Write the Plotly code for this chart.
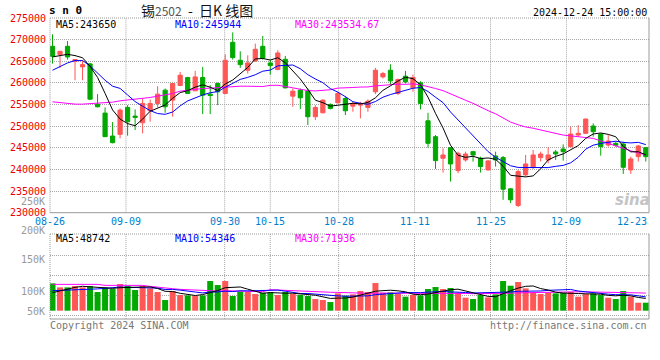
import plotly.graph_objects as go

# ---------------- data ----------------
dates = ["08-26","08-27","08-28","08-29","08-30",
         "09-02","09-03","09-04","09-05","09-06",
         "09-09","09-10","09-11","09-12","09-13",
         "09-18","09-19","09-20",
         "09-23","09-24","09-25","09-26","09-27","09-30",
         "10-08","10-09","10-10","10-11",
         "10-14","10-15","10-16","10-17","10-18",
         "10-21","10-22","10-23","10-24","10-25",
         "10-28","10-29","10-30","10-31","11-01",
         "11-04","11-05","11-06","11-07","11-08",
         "11-11","11-12","11-13","11-14","11-15",
         "11-18","11-19","11-20","11-21","11-22",
         "11-25","11-26","11-27","11-28","11-29",
         "12-02","12-03","12-04","12-05","12-06",
         "12-09","12-10","12-11","12-12","12-13",
         "12-16","12-17","12-18","12-19","12-20",
         "12-23","12-24"]

opens = [268460,266540,268460,265000,263700,264390,255090,253020,247720,248110,
         254330,252330,250790,253560,255250,258320,256020,259400,261240,258170,
         261240,257400,259860,257550,269380,265230,262930,265080,268460,264620,
         263080,265460,256940,258320,258090,252180,253100,255020,255400,256400,
         254630,254860,254330,257940,261390,262930,257550,261550,258860,260010,
         251250,247570,242580,245030,239730,242190,244110,242580,239890,243110,
         242730,235510,231670,238740,240430,242730,242190,244040,244730,245260,
         247950,248340,250030,248180,245650,246030,245880,239890,242960,245030]
highs = [271220,267310,269690,265390,265230,264620,257400,254330,250950,254100,
         254860,253870,256400,256170,259240,258700,259860,262540,261390,262770,
         263700,259470,260090,266610,271680,267310,266380,269070,270840,265390,
         267540,266230,258700,258700,258700,254860,256170,255250,257940,256940,
         255630,255630,256170,263470,262540,264310,261010,262770,261930,260390,
         253100,247950,244880,245030,244110,244110,244270,242960,242190,244110,
         243110,235660,239890,243340,244500,244110,245110,244500,245800,249870,
         250260,251790,250640,248340,247950,246420,246420,242960,245650,245030]
lows = [264460,263470,265390,260620,260620,256020,254330,247570,246030,247180,
        247800,249100,248340,251020,254330,253100,252180,259240,257400,258170,
        252790,252790,254860,257400,265390,263470,262160,264850,265390,261930,
        262930,258700,254480,253940,250260,251410,252940,253870,255250,252560,
        253330,251790,253330,257400,261010,259470,257170,259860,257940,253870,
        245030,240120,239270,237200,239120,241810,241810,239270,239730,240660,
        232980,232210,231290,238350,240120,241810,241420,242190,242040,245110,
        247570,248180,247570,243190,245260,245260,238970,238970,241810,241810]
closes = [266150,267310,266000,265390,264230,256250,254480,247570,246190,253710,
          251020,252020,255250,255250,257400,254480,259860,261780,257550,261390,
          257170,257090,257940,265230,265850,264230,264620,267770,265770,264000,
          266920,258860,258090,256550,252180,254330,256020,254100,257550,253560,
          255250,255250,255790,262930,262160,260470,260780,260240,261240,255250,
          246030,242040,243340,241270,243730,243570,243340,240660,241960,242190,
          235430,232980,239500,241270,243340,243570,243340,243570,244110,248180,
          248340,251640,248720,245260,246570,245570,240500,242420,245420,242960]
volumes = [109060, 93100, 93100, 98420, 93100, 98420, 74480, 93100, 86450,106400,
            98420, 82460, 98420, 89110, 74480, 42560, 78470, 62510, 61180, 58520,
            61180,118370,102410,118370, 58520, 75810, 74480, 66500, 71820, 73150,
            62510, 74480, 66500, 62510, 58520, 46550, 42560, 34580, 69160, 59850,
            65170, 78470, 74480,110390, 71820, 73150, 66500, 55860, 62510, 61180,
            86450, 94430, 86450, 90440, 71820, 51870, 46550, 62510, 53200, 65170,
           118370, 99750,114380, 89110, 71820, 66500, 71820, 69160, 71820, 74480,
            55860, 66500, 69160, 62510, 51870, 46550, 78470, 55860, 31920, 31920]

# moving-average values before enough visible history exists
ma5_head = [266000, 266380, 266610, 266310]
ma10_head = [262930, 263700, 264620, 265160, 265160, 263930, 262310, 260620, 259240]
ma30_head = [255630, 255480, 255170, 255090, 255090, 255170, 255250, 255400, 255550,
             255860, 256020, 256170, 256400, 256630, 256940, 257240, 257550, 258090,
             258320, 258550, 258700, 258780, 258930, 259090, 259160, 259240, 259240,
             259240, 259160]
vma5_head = [71820, 79800, 87780, 93100]
vma10_head = [79800, 80500, 81500, 82500, 84000, 85500, 87000, 89000, 91000]
vma30_head = [105100, 105100, 105100, 105100, 105100, 105100, 105100, 101100, 101100,
              101100, 101100, 101100, 101100, 97100, 93100, 90400, 87800, 85100,
              83800, 81100, 79800, 78500, 78500, 79800, 78500, 78500, 77100, 77100,
              75800]

price_ticks = [275000, 270000, 265000, 260000, 255000, 250000, 245000, 240000, 235000, 230000]
date_tick_labels = ["08-26", "09-09", "09-30", "10-15", "10-28", "11-11", "11-25", "12-09", "12-23"]
vol_tick_labels = ["250K", "200K", "150K", "100K", "50K"]

title_code = "s n 0"
title_name = "锡"
title_contract = "2502"
title_rest = "&nbsp;&nbsp;-&nbsp;&nbsp;日K 线图"
stamp_text = "2024-12-24 15:00:00"
price_ma_text = ["MA5:243650", "MA10:245944", "MA30:243534.67"]
vol_ma_text = ["MA5:48742", "MA10:54346", "MA30:71936"]
footer_left = "Copyright 2024 SINA.COM"
footer_right = "http://finance.sina.com.cn"


def moving_avg(vals, n, head):
    out = list(head)
    for i in range(n - 1, len(vals)):
        out.append(sum(vals[i - n + 1:i + 1]) / n)
    return out


# ---------------- layout constants ----------------
W, H = 660, 360
ML, MR, MT, MB = 50, 11, 18, 41
PW = W - ML - MR
PH = H - MT - MB
PRICE_BOTTOM_PX = 212.7
VOL_TOP_PX = 234
VOL_ZERO_PX = 310.7
VOL_PER_PX = 3990
CANDLE0_PX = 52.5
CANDLE_STEP = 7.51
GRID_STEP = 7.595

RED = "#ff5656"
GREEN = "#00a800"
GRID = "#a8a8a8"
BORDER = "#9a9a9a"
MONO = "DejaVu Sans Mono"


def py(y):
    return (H - MB - y) / PH


def px(x):
    return (x - ML) / PW


def gx(i):
    return (ML + GRID_STEP * i - CANDLE0_PX) / CANDLE_STEP


idx = list(range(len(dates)))
x_lo = (ML - CANDLE0_PX) / CANDLE_STEP
x_hi = (ML + PW - CANDLE0_PX) / CANDLE_STEP
price_dom = [py(PRICE_BOTTOM_PX), 1]
vol_dom = [0, py(VOL_TOP_PX)]
vol_range = [-(H - MB - VOL_ZERO_PX) * VOL_PER_PX, (VOL_ZERO_PX - VOL_TOP_PX) * VOL_PER_PX]

fig = go.Figure()
fig.add_trace(go.Candlestick(
    x=idx, open=opens, high=highs, low=lows, close=closes,
    increasing=dict(line=dict(color=RED, width=1), fillcolor=RED),
    decreasing=dict(line=dict(color=GREEN, width=1), fillcolor=GREEN),
    whiskerwidth=0, showlegend=False, hoverinfo="skip", xaxis="x", yaxis="y"))

for n, head, col in [(30, ma30_head, "#ff00ff"), (10, ma10_head, "#0000ff"), (5, ma5_head, "#000000")]:
    fig.add_trace(go.Scatter(x=idx, y=moving_avg(closes, n, head), mode="lines",
                             line=dict(color=col, width=1), showlegend=False,
                             hoverinfo="skip", xaxis="x", yaxis="y"))

bar_colors = [RED if c >= o else GREEN for o, c in zip(opens, closes)]
fig.add_trace(go.Bar(x=idx, y=volumes, marker=dict(color=bar_colors, line=dict(width=0)),
                     width=0.8, showlegend=False, hoverinfo="skip", xaxis="x2", yaxis="y2"))
for n, head, col in [(30, vma30_head, "#ff00ff"), (10, vma10_head, "#0000ff"), (5, vma5_head, "#000000")]:
    fig.add_trace(go.Scatter(x=idx, y=moving_avg(volumes, n, head), mode="lines",
                             line=dict(color=col, width=1), showlegend=False,
                             hoverinfo="skip", xaxis="x2", yaxis="y2"))

shapes = []
tick_idx = [dates.index(d) for d in date_tick_labels]
for i in tick_idx[1:-1]:
    for yref in ["y domain", "y2 domain"]:
        shapes.append(dict(type="line", xref="x", yref=yref, x0=gx(i), x1=gx(i), y0=0, y1=1,
                           line=dict(color=GRID, width=1, dash="1px,1px"), layer="below"))
# panel borders
for (b, t) in [price_dom, vol_dom]:
    shapes.append(dict(type="line", xref="paper", yref="paper", x0=0, x1=1, y0=t, y1=t,
                       line=dict(color=BORDER, width=1, dash="1px,1px")))
    shapes.append(dict(type="line", xref="paper", yref="paper", x0=0, x1=0, y0=b, y1=t,
                       line=dict(color=BORDER, width=1, dash="1px,1px")))
    shapes.append(dict(type="line", xref="paper", yref="paper", x0=0, x1=1, y0=b, y1=b,
                       line=dict(color=BORDER, width=1)))
    shapes.append(dict(type="line", xref="paper", yref="paper", x0=1, x1=1, y0=b, y1=t,
                       line=dict(color=BORDER, width=1)))

ann = []
f10 = dict(family=MONO, size=10)
ann.append(dict(text=title_code, x=px(47), y=py(11), xanchor="left", yanchor="middle",
                font=dict(family=MONO, size=11, color="#000", weight="bold")))
title_html = (f"{title_name}<span style='color:#555;font-size:12px'>{title_contract}</span>"
              f"{title_rest}")
ann.append(dict(text=title_html, x=px(139), y=py(10), xanchor="left", yanchor="middle",
                font=dict(family="Noto Sans CJK SC", size=14, color="#111")))
ann.append(dict(text=stamp_text, x=1, y=py(12), xanchor="right", yanchor="middle",
                font=dict(f10, color="#000")))
for txt, xp, col in zip(price_ma_text, [54, 173, 293], ["#000", "#0000ff", "#ff00ff"]):
    ann.append(dict(text=txt, x=px(xp), y=py(24), xanchor="left", yanchor="middle",
                    font=dict(f10, color=col)))
for txt, xp, col in zip(vol_ma_text, [54, 173, 293], ["#000", "#0000ff", "#ff00ff"]):
    ann.append(dict(text=txt, x=px(xp), y=py(238.5), xanchor="left", yanchor="middle",
                    font=dict(f10, color=col)))
for lab, yp in zip(vol_tick_labels, [201, 230.5, 259, 291, 311]):
    ann.append(dict(text=lab, x=0, y=py(yp), xanchor="right", yanchor="middle", xshift=-3,
                    font=dict(f10, color="#999")))
for lab, i in zip(date_tick_labels, tick_idx):
    if lab == date_tick_labels[-1]:
        ann.append(dict(text=lab, x=1, y=py(221.5), xanchor="right", yanchor="middle",
                        font=dict(f10, color="#0080cc")))
    else:
        ann.append(dict(text=lab, xref="x", x=gx(i), y=py(221.5), xanchor="center",
                        yanchor="middle", font=dict(f10, color="#0080cc")))
ann.append(dict(text=footer_left, x=px(48), y=py(325), xanchor="left", yanchor="middle",
                font=dict(f10, color="#777")))
ann.append(dict(text=footer_right, x=1, y=py(325), xanchor="right", yanchor="middle",
                font=dict(f10, color="#777")))
ann.append(dict(text="<b><i>sina</i></b>", x=px(652), y=py(200), xanchor="right", yanchor="middle",
                font=dict(family="DejaVu Sans", size=15, color="#c4c4c4")))
for a in ann:
    a.setdefault("xref", "paper")
    a.setdefault("yref", "paper")
    a["showarrow"] = False

fig.update_layout(
    width=W, height=H, margin=dict(l=ML, r=MR, t=MT, b=MB, autoexpand=False),
    paper_bgcolor="white", plot_bgcolor="white",
    shapes=shapes, annotations=ann, bargap=0.2, boxgap=0.2,
    xaxis=dict(domain=[0, 1], range=[x_lo, x_hi], anchor="y", showticklabels=False,
               showgrid=False, zeroline=False, showline=False, ticks="", automargin=False,
               rangeslider=dict(visible=False)),
    xaxis2=dict(domain=[0, 1], range=[x_lo, x_hi], anchor="y2", matches="x", automargin=False,
                showticklabels=False, showgrid=False, zeroline=False, showline=False, ticks=""),
    yaxis=dict(domain=price_dom, range=[230000, 275000], tickvals=price_ticks, automargin=False,
               ticktext=[str(v) for v in price_ticks], tickfont=dict(f10, color="#ee0000"),
               showgrid=True, gridcolor=GRID, griddash="1px,1px", gridwidth=1,
               zeroline=False, showline=False, ticks="", ticklabelstandoff=3),
    yaxis2=dict(domain=vol_dom, range=vol_range, automargin=False,
                tickvals=[(VOL_ZERO_PX - y) * VOL_PER_PX for y in [255, 275, 295, 315]],
                showticklabels=False, showgrid=True, gridcolor=GRID, griddash="1px,1px",
                zeroline=False, showline=False, ticks=""),
)

fig.write_html("out.html", config={"displayModeBar": False, "staticPlot": True},
               post_script="document.body.style.margin='0px';")
